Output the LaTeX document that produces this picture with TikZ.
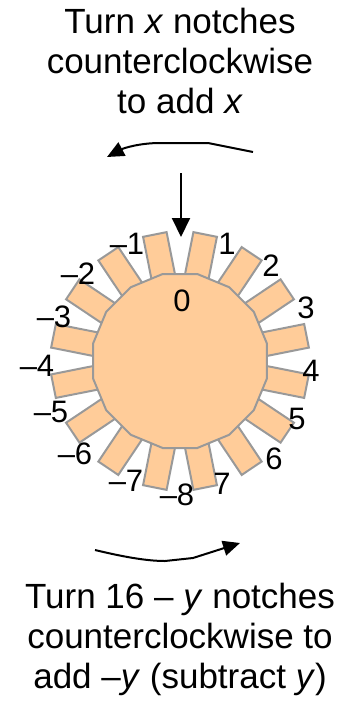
\documentclass[tikz,border=0pt]{standalone}
\usepackage{fontspec}
\setmainfont{Liberation Sans}
\usetikzlibrary{arrows.meta}
\definecolor{peach}{HTML}{FFCC99}
\definecolor{rim}{HTML}{999999}
\begin{document}
\begin{tikzpicture}[x=1pt,y=-1pt,
  tooth/.style={draw=rim, fill=peach, line width=2pt, line join=miter},
  num/.style={font=\fontsize{31}{36}\selectfont, inner sep=0pt},
  caption/.style={font=\fontsize{35}{40}\selectfont, align=center, inner sep=0pt},
  arr/.style={line width=2pt, line join=round, -{Triangle[length=17pt,width=15pt]}},
  varr/.style={line width=2pt, -{Triangle[length=19pt,width=18pt]}}]
\useasboundingbox (0,0) rectangle (340,702);
% captions
\node[caption, anchor=north] (topcap) at (180,8) {Turn \textit{x} notches\\counterclockwise\\to add \textit{x}};
\node[caption, anchor=north] (botcap) at (180,583) {Turn 16 – \textit{y} notches\\counterclockwise to\\add –\textit{y} (subtract \textit{y})};
% wheel
\coordinate (hub) at (180,361);
\begin{scope}[shift={(hub)}]
  \foreach \i in {0,...,15}
    \draw[tooth, rotate=11.25+22.5*\i] (-12,80) rectangle (12,129);
  \draw[tooth] (11.25:88.7) \foreach \i in {1,...,15}{ -- (11.25+22.5*\i:88.7)} -- cycle;
\end{scope}
% numbers
\node[num] (n0) at (182,301) {0};
\node[num] (p1) at (227,244) {1};
\node[num] (p2) at (271,266) {2};
\node[num] (p3) at (306,308) {3};
\node[num] (p4) at (311,371) {4};
\node[num] (p5) at (297,419) {5};
\node[num] (p6) at (274,459) {6};
\node[num] (p7) at (222,484) {7};
\node[num] (m8) at (177,495) {–8};
\node[num] (m7) at (126,481) {–7};
\node[num] (m6) at (75,454) {–6};
\node[num] (m5) at (51,412) {–5};
\node[num] (m4) at (37,366) {–4};
\node[num] (m3) at (54,317) {–3};
\node[num] (m2) at (78,274) {–2};
\node[num] (m1) at (127,244) {–1};
% arrows
\coordinate (ccs) at (253,152);
\coordinate (cce) at (107,157);
\draw[arr] (ccs) -- (208,143) -- (160,143) .. controls (140,143) and (124,148) .. (cce);
\coordinate (cws) at (95,550);
\coordinate (cwe) at (240,543);
\draw[arr] (cws) .. controls (120,556) and (145,561) .. (165,561) -- (193,558) -- (cwe);
\coordinate (ptrs) at (181,173);
\coordinate (ptre) at (181,237);
\draw[varr] (ptrs) -- (ptre);
\end{tikzpicture}
\end{document}
